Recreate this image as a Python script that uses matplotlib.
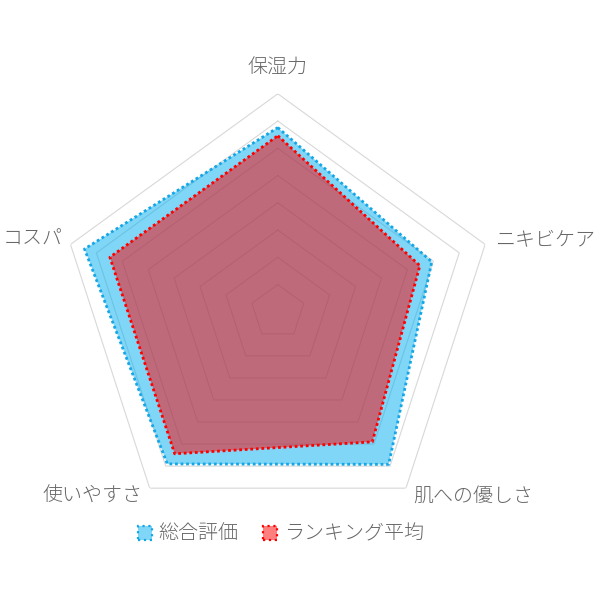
import numpy as np
import matplotlib.pyplot as plt
from matplotlib.patches import Patch

plt.rcParams['font.family'] = ['Noto Sans CJK JP', 'DejaVu Sans']

categories = ['保湿力', 'ニキビケア', '肌への優しさ', '使いやすさ', 'コスパ']
total_score = [4.38, 3.97, 4.46, 4.45, 4.73]
ranking_avg = [4.23, 3.74, 3.95, 4.22, 4.24]
series_names = ['総合評価', 'ランキング平均']
grid_levels = [1.5, 2.0, 2.5, 3.0, 3.5, 4.0, 4.5, 5.0]

BLUE = '#00AEEF'
BLUE_LINE = '#15A6E6'
RED = '#FF0000'
TEXT = '#666666'

n = len(categories)
theta = np.linspace(0, 2 * np.pi, n, endpoint=False)
theta_c = np.append(theta, theta[0])


def closed(v):
    return np.append(v, v[0])


fig = plt.figure(figsize=(6, 6), dpi=100)
ax = fig.add_axes([0.0997, 0.117, 0.7267, 0.7267], projection='polar')
ax.set_theta_offset(np.pi / 2)
ax.set_theta_direction(-1)
ax.set_ylim(1, 5)
ax.grid(False)
ax.set_xticks([])
ax.set_yticks([])
ax.spines['polar'].set_visible(False)
ax.patch.set_alpha(0)

# pentagon grid
for lv in grid_levels:
    ax.plot(theta_c, [lv] * (n + 1), color='#d8d8d8', lw=0.8, zorder=1)

ax.fill(theta_c, closed(total_score), color=BLUE, alpha=0.5, lw=0, zorder=2)
ax.fill(theta_c, closed(ranking_avg), color=RED, alpha=0.5, lw=0, zorder=3)
ax.plot(theta_c, closed(total_score), color=BLUE_LINE, lw=2.0,
        linestyle=(0, (1, 1)), zorder=4)
ax.plot(theta_c, closed(ranking_avg), color=RED, lw=2.0,
        linestyle=(0, (1, 1)), zorder=5)

# category labels
offsets = [(0, 25, 'center'), (10, 5, 'left'), (7, -8, 'left'),
           (-7, -8, 'right'), (-8, 5, 'right')]
for t, lab, (dx, dy, ha) in zip(theta, categories, offsets):
    ax.annotate(lab, xy=(t, 5), xytext=(dx, dy), textcoords='offset pixels',
                ha=ha, va='center', fontsize=14.4, color=TEXT,
                fontweight='light', annotation_clip=False)

handles = [
    Patch(facecolor=(0, 174 / 255, 239 / 255, 0.5), edgecolor=BLUE_LINE,
          linestyle=':', linewidth=1.6),
    Patch(facecolor=(1, 0, 0, 0.5), edgecolor=RED, linestyle=':', linewidth=1.6),
]
leg = fig.legend(handles, series_names, loc='center',
                 bbox_to_anchor=(0.468, 0.11), ncol=2, frameon=False,
                 fontsize=14.4, handlelength=0.7, handleheight=0.7,
                 handletextpad=0.35, columnspacing=1.2)
for txt in leg.get_texts():
    txt.set_color(TEXT)
    txt.set_fontweight('light')

fig.savefig('out.png', dpi=100)
